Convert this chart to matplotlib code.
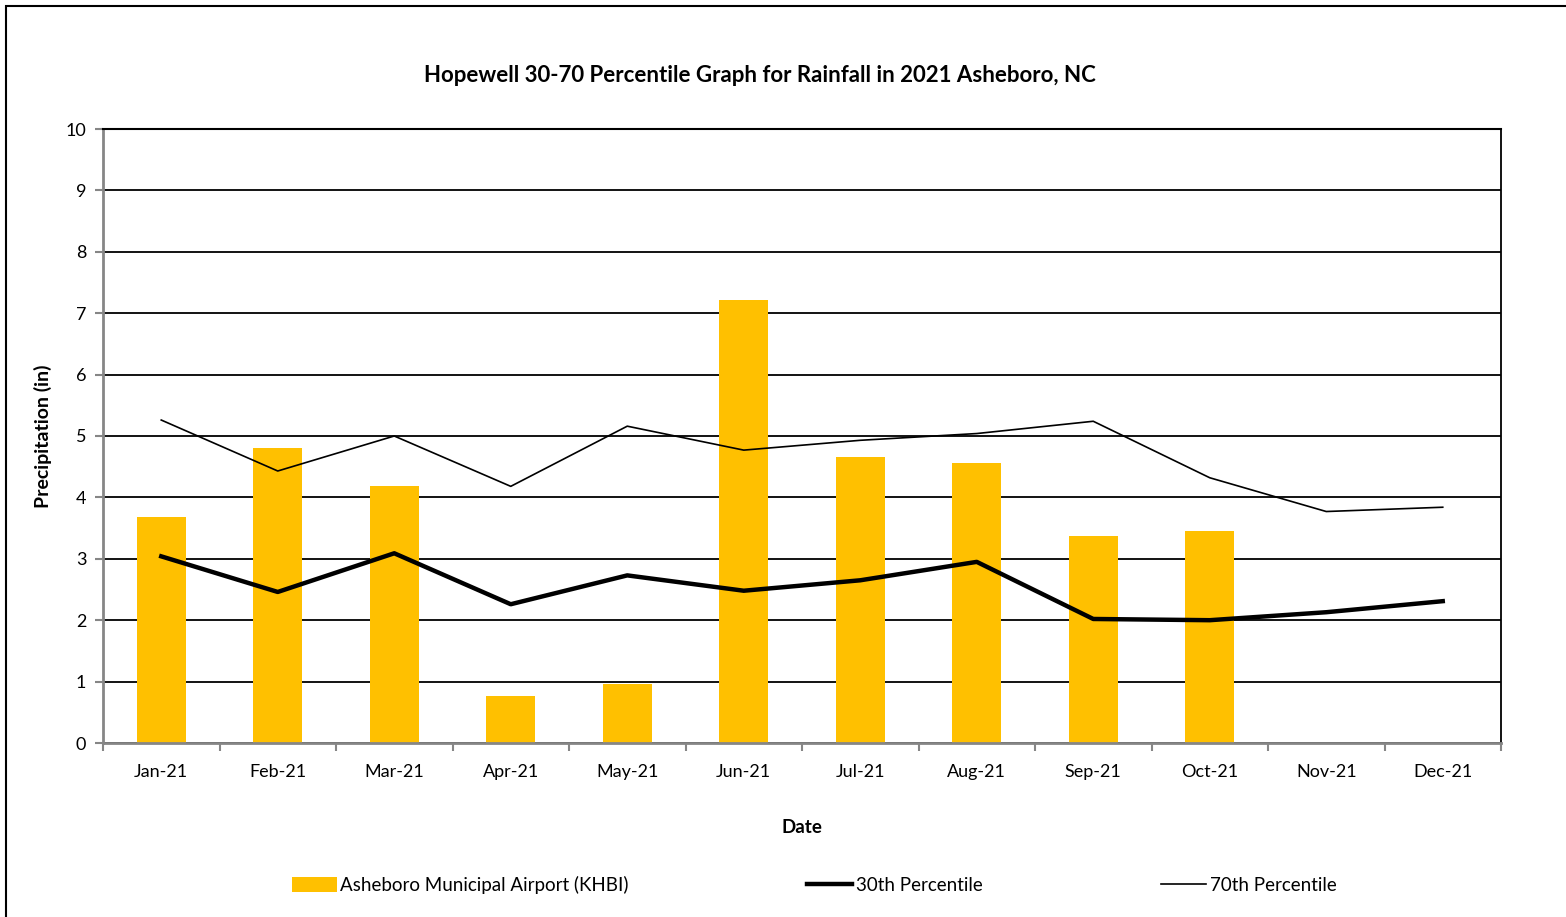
import matplotlib.pyplot as plt
import numpy as np
from matplotlib.patches import Rectangle

plt.rcParams['font.family'] = ['Lato', 'DejaVu Sans']

months = ['Jan-21', 'Feb-21', 'Mar-21', 'Apr-21', 'May-21', 'Jun-21',
          'Jul-21', 'Aug-21', 'Sep-21', 'Oct-21', 'Nov-21', 'Dec-21']
rain = [3.68, 4.81, 4.19, 0.76, 0.96, 7.21, 4.66, 4.56, 3.37, 3.46, np.nan, np.nan]
p30 = [3.04, 2.46, 3.09, 2.26, 2.73, 2.48, 2.65, 2.95, 2.02, 2.00, 2.13, 2.31]
p70 = [5.26, 4.43, 5.00, 4.18, 5.16, 4.77, 4.93, 5.04, 5.24, 4.32, 3.77, 3.84]

fig = plt.figure(figsize=(15.66, 9.17), dpi=100)
ax = fig.add_axes([103/1566, 1-743/917, (1501-103)/1566, (743-129)/917])

# outer chart frame
fig.patches.append(Rectangle((6/1566, -0.05), 1.1, 1 - 6/917 + 0.05, transform=fig.transFigure,
                             fill=False, edgecolor='black', linewidth=1.5))

x = np.arange(len(months))
ax.bar(x, rain, width=0.42, color='#FFC000', zorder=2, label='Asheboro Municipal Airport (KHBI)')
ax.plot(x, p30, color='black', linewidth=3.2, zorder=3, label='30th Percentile')
ax.plot(x, p70, color='black', linewidth=1.2, zorder=3, label='70th Percentile')

ax.set_xlim(-0.5, 11.5)
ax.set_ylim(0, 10)
ax.set_yticks(range(0, 11))
ax.yaxis.grid(True, color='black', linewidth=1.3, zorder=1)
ax.set_axisbelow(True)

ax.set_xticks(x)
ax.set_xticklabels(months, fontsize=13)
ax.set_xticks(np.arange(-0.5, 12, 1), minor=True)
ax.tick_params(axis='x', which='major', length=0, pad=15)
ax.tick_params(axis='x', which='minor', length=6, color='#868686', width=1.5)
ax.tick_params(axis='y', length=6, color='#868686', width=1.5, labelsize=13, pad=6)

for s in ['left', 'bottom']:
    ax.spines[s].set_color('#868686')
    ax.spines[s].set_linewidth(2)
ax.spines['right'].set_color('black')
ax.spines['right'].set_linewidth(1.3)
ax.spines['top'].set_color('black')
ax.spines['top'].set_linewidth(1.5)

ax.set_ylabel('Precipitation (in)', fontsize=14, fontweight='bold', labelpad=10)
ax.set_xlabel('Date', fontsize=13.5, fontweight='bold', labelpad=28)

fig.text(760/1566, 1-75/917, 'Hopewell 30-70 Percentile Graph for Rainfall in 2021 Asheboro, NC',
         ha='center', va='center', fontsize=16, fontweight='bold')

handles, labels = ax.get_legend_handles_labels()
order = [2, 0, 1]
fig.legend([handles[i] for i in order], [labels[i] for i in order],
           loc='center', bbox_to_anchor=(814/1566, 1-885/917), ncol=3, frameon=False,
           fontsize=13.5, handlelength=2.4, handletextpad=0.2, columnspacing=9.5,
           handleheight=0.9)

fig.savefig('out.png', dpi=100)
